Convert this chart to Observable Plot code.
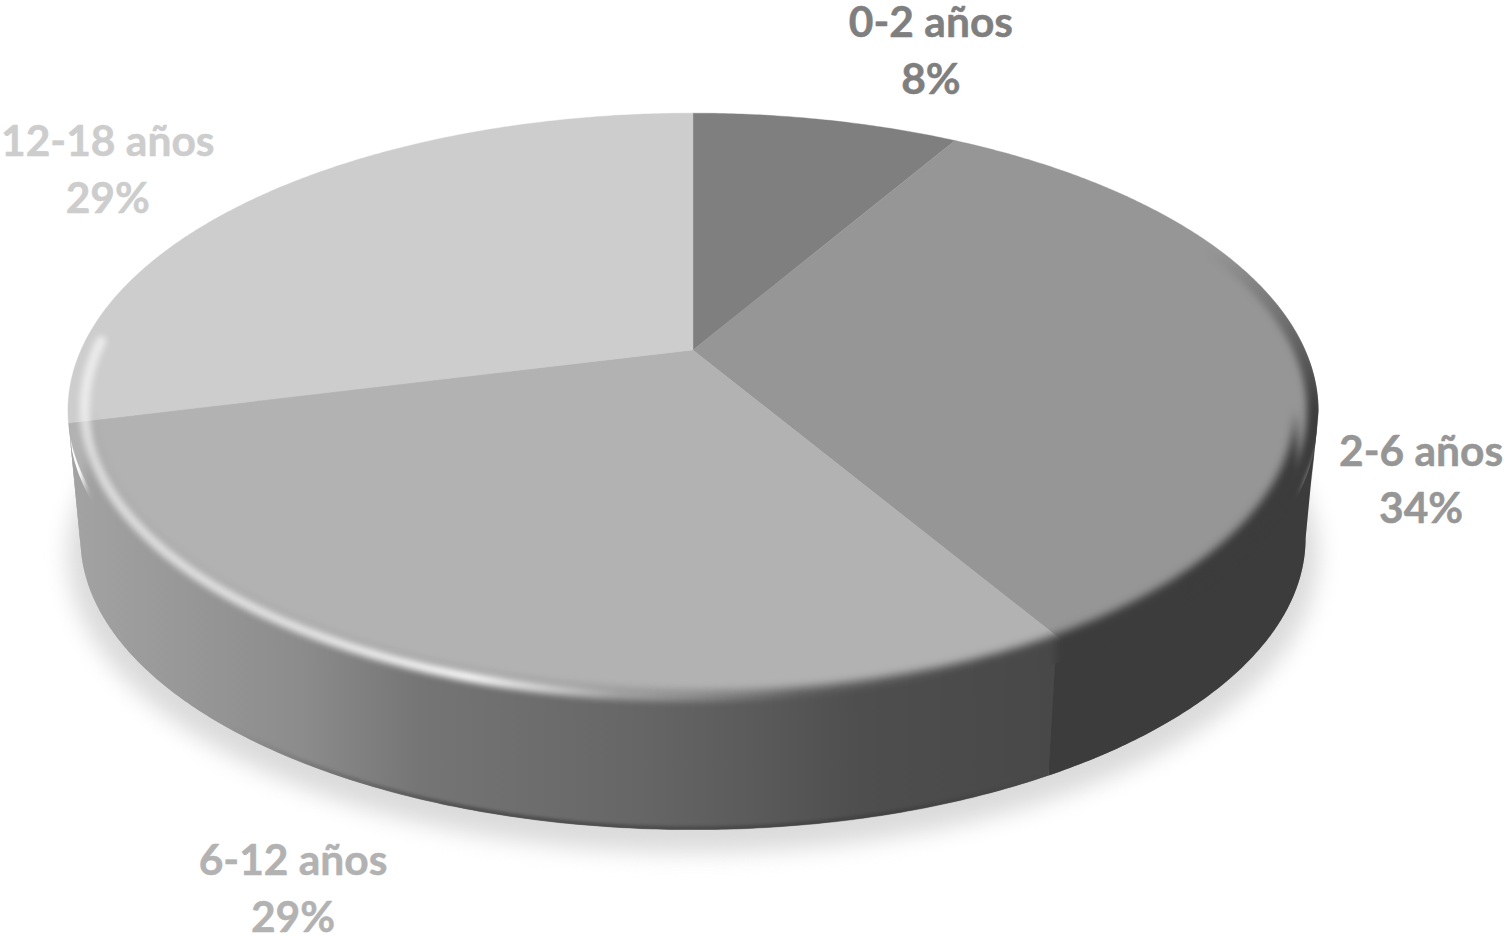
<!DOCTYPE html>
<html>
<head>
<meta charset="utf-8">
<script src="https://cdn.jsdelivr.net/npm/d3@7"></script>
<script src="https://cdn.jsdelivr.net/npm/@observablehq/plot@0.6"></script>
<style>
html,body{margin:0;padding:0;background:#fff;overflow:hidden}
svg{display:block}
</style>
</head>
<body>
<div id="chart"></div>
<script>
// Data
const categories = ["0-2 años", "2-6 años", "6-12 años", "12-18 años"];
const values = [8.4, 33.1, 29.6, 28.9];
const percentLabels = [8, 34, 29, 29];
const wallValues = [8.4, 33.5, 29.2, 28.9];
const topColors = ["#7f7f7f", "#969696", "#b2b2b2", "#cdcdcd"];
const sideColors = ["#5f5f5f", "#3c3c3c", "url(#side612)", "#a6a6a6"];
const labelDx = [104, 116, -110, -157];
const labelDy = [-73, 127, 211, -28];

// 3D pie projection: a tilted disc seen in perspective
const persp = 0.2034, rimA = 612, rimB = 285, topCy = 350, cx = 693;
const depthScale = 0.98, bottomCy = 479;
const silhouette = Math.acos(-persp) * 180 / Math.PI;   // degrees where the rim turns away
const project = (deg, r = 1, cy = topCy, s = 1) => {
  const t = deg * Math.PI / 180, u = r * Math.sin(t), v = r * Math.cos(t), w = 1 + persp * v;
  return [cx + s * rimA * u / w, cy - s * rimB * v / w];
};
const top3 = (deg, r = 1) => project(deg, r);
const bot3 = (deg, r = 1) => project(deg, r, bottomCy, depthScale);
const sweep = (a, b, step = 0.5) => {
  const out = d3.range(a, b, step); out.push(b); return out;
};

const toSlices = (vals) => {
  const total = d3.sum(vals), cum = d3.cumsum(vals);
  return categories.map((name, i) => ({
    name, i,
    a0: (i ? cum[i - 1] : 0) / total * 360,
    a1: cum[i] / total * 360,
    pct: percentLabels[i]
  }));
};
const slices = toSlices(values);
const wallSlices = toSlices(wallValues);
const fan = (s) => sweep(s.a0, s.a1).map(d => ({p: top3(d)}));

// Front wall, clipped to what can be seen
const wall = (s, f) => {
  const a = Math.max(s.a0, silhouette), b = Math.min(s.a1, 360 - silhouette);
  if (a >= b) return [];
  return sweep(a, b).map(d => {
    const t = top3(d), bm = bot3(d);
    return {t: [t[0] + (bm[0] - t[0]) * f, t[1] + (bm[1] - t[1]) * f], b: bm};
  });
};
const softWall = sweep(silhouette, 360 - silhouette).map(d => ({t: top3(d, 0.965), b: bot3(d)}));

const clipped = (extra) => ({
  ...extra,
  render(index, scales, vals, dim, ctx, next) {
    const g = next(index, scales, vals, dim, ctx);
    g.setAttribute("clip-path", "url(#outline)");
    return g;
  }
});

const defs = (index, {x, y}) => {
  const ns = "http://www.w3.org/2000/svg";
  const d = document.createElementNS(ns, "defs");
  const grad = (id, stops, attrs) => {
    const g = document.createElementNS(ns, "linearGradient");
    g.setAttribute("id", id);
    g.setAttribute("gradientUnits", "userSpaceOnUse");
    for (const k in attrs) g.setAttribute(k, attrs[k]);
    for (const [o, c, a] of stops) {
      const st = document.createElementNS(ns, "stop");
      st.setAttribute("offset", o / 1508);
      st.setAttribute("stop-color", c);
      st.setAttribute("stop-opacity", a ?? 1);
      g.appendChild(st);
    }
    d.appendChild(g);
  };
  const h = {x1: x(0), x2: x(1508), y1: 0, y2: 0};
  const wallStops = [[80,"#a2a2a2"],[300,"#8c8c8c"],[420,"#757575"],[640,"#666666"],[760,"#5a5a5a"],[860,"#4e4e4e"],[1055,"#484848"]];
  grad("side612", wallStops, h);
  grad("softwall", [...wallStops, [1056,"#3c3c3c"]], h);
  grad("shine", [[60,"#fff",0.6],[300,"#fff",0.75],[470,"#fff",0.95],[620,"#fff",0.35],[800,"#fff",0.05],[1000,"#fff",0]], h);
  grad("foot", [[230,"#333",0],[480,"#333",0.55],[900,"#333",0.45],[1040,"#333",0]], h);
  grad("dusk", [[0,"#3c3c3c",0],[1508,"#3c3c3c",1]], {x1: 0, x2: 0, y1: y(250), y2: y(410)});
  const cp = document.createElementNS(ns, "clipPath");
  cp.setAttribute("id", "outline");
  const path = document.createElementNS(ns, "path");
  const outline = [
    ...sweep(360 - silhouette, 360).map(a => top3(a)),
    ...sweep(0, silhouette).map(a => top3(a)),
    ...sweep(silhouette, 360 - silhouette).map(a => bot3(a))
  ];
  path.setAttribute("d", d3.line().x(p => x(p[0])).y(p => y(p[1]))(outline) + "Z");
  cp.appendChild(path);
  d.appendChild(cp);
  return d;
};

const discArea = (proj, opts) => Plot.area(sweep(0, 360, 1).map(a => ({p: proj(a)})), {
  x1: () => proj(0)[0], y1: () => (proj(0)[1] + proj(180)[1]) / 2,
  x2: d => d.p[0], y2: d => d.p[1], ...opts
});

const marks = [
  defs,
  // drop shadow
  discArea(a => project(a, 1, bottomCy + 16, 1.0), {fill: "#cfcfcf", fillOpacity: 0.75, imageFilter: "blur(11px)"}),
  // flat top slices
  ...slices.map(s => Plot.area(fan(s), {
    x1: () => cx, y1: () => topCy, x2: d => d.p[0], y2: d => d.p[1],
    fill: topColors[s.i], stroke: topColors[s.i], strokeWidth: 0.4
  })),
  // soft transition from the top face into the wall
  Plot.area(softWall, clipped({
    x1: d => d.t[0], y1: d => d.t[1], x2: d => d.b[0], y2: d => d.b[1],
    fill: "url(#softwall)", imageFilter: "blur(4px)"
  })),
  // highlight along the rim
  Plot.line(sweep(150, 272).map(a => ({p: top3(a, 0.975)})), clipped({
    x: d => d.p[0], y: d => d.p[1], stroke: "url(#shine)", strokeWidth: 10, imageFilter: "blur(3px)"
  })),
  // dark rim on the right
  Plot.line(sweep(66, 135).map(a => ({p: top3(a, 0.995)})), clipped({
    x: d => d.p[0], y: d => d.p[1], stroke: "url(#dusk)", strokeWidth: 17, imageFilter: "blur(3.5px)"
  })),
  // crisp wall
  ...wallSlices.map(s => Plot.area(wall(s, 0.09), {
    x1: d => d.t[0], y1: d => d.t[1], x2: d => d.b[0], y2: d => d.b[1],
    fill: sideColors[s.i]
  })),
  // darker foot of the wall
  Plot.line(sweep(135, 235).map(a => ({p: bot3(a, 0.997)})), clipped({
    x: d => d.p[0], y: d => d.p[1], stroke: "url(#foot)", strokeWidth: 5, imageFilter: "blur(1.5px)"
  })),
  // labels
  ...slices.map(s => {
    const m = top3((s.a0 + s.a1) / 2);
    return Plot.text([s], {
      x: () => m[0] + labelDx[s.i],
      y: () => m[1] + labelDy[s.i],
      text: d => `${d.name}\n${d.pct}%`,
      fill: topColors[s.i],
      stroke: topColors[s.i],
      strokeWidth: 0.5,
      fontSize: 42.5,
      fontWeight: 700,
      fontFamily: "Lato, Carlito, sans-serif",
      lineHeight: 1.33,
      textAnchor: "middle"
    });
  })
];

const chart = Plot.plot({
  width: 1508,
  height: 936,
  margin: 0,
  x: {domain: [0, 1508], range: [0, 1508], axis: null},
  y: {domain: [0, 936], range: [0, 936], axis: null},
  style: {background: "#fff"},
  marks
});
document.getElementById("chart").appendChild(chart);
</script>
</body>
</html>
